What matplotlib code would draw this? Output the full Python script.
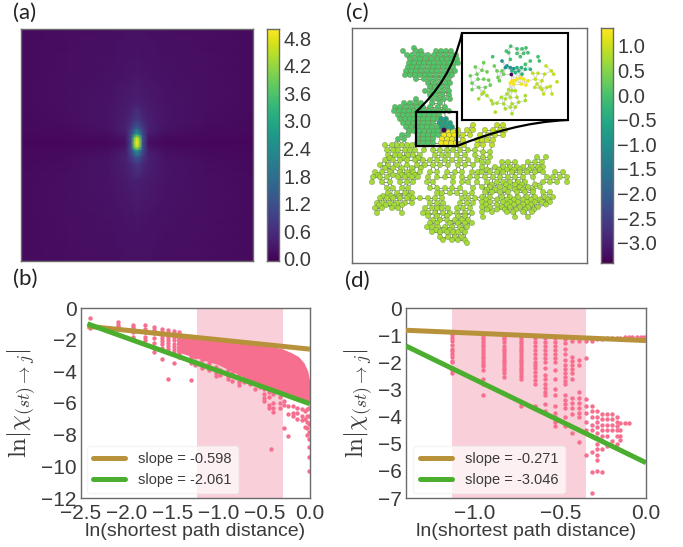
import numpy as np
import matplotlib
matplotlib.use("Agg")
import matplotlib.pyplot as plt
from matplotlib.patches import Rectangle, PathPatch
from matplotlib.path import Path
from matplotlib.lines import Line2D

plt.rcParams['font.family'] = ['Liberation Sans', 'DejaVu Sans']
plt.rcParams['mathtext.fontset'] = 'cm'

W, H = 683, 547
DARK = '#3a3a3a'
SPINE = '#6a6a6a'
PINK = '#f76f8e'
SHADE = '#f9cfd9'
GOLD = '#b8923a'
GREEN = '#4cae2e'

# ---------------- (a) heat map values ----------------
heat_x = [0, .2, .38, .45, .475, .49, .5, .51, .525, .55, .62, .8, 1]
heat_y = [0, .2, .33, .40, .43, .455, .47, .49, .51, .525, .55, .58, .65, .8, 1]
heat_v = [
    [.10, .12, .14, .15, .15, .15, .15, .15, .15, .15, .14, .12, .10],
    [.10, .13, .18, .21, .22, .23, .23, .23, .22, .21, .18, .13, .10],
    [.09, .13, .22, .30, .36, .40, .42, .40, .36, .30, .22, .13, .09],
    [.08, .12, .22, .38, .58, .78, .85, .78, .58, .38, .22, .12, .08],
    [.07, .10, .20, .40, .80, 1.25, 1.45, 1.25, .80, .40, .20, .10, .07],
    [.05, .07, .14, .32, 1.05, 2.3, 2.8, 2.3, 1.05, .32, .14, .07, .05],
    [.05, .06, .10, .22, 1.2, 3.9, 4.6, 3.9, 1.2, .22, .10, .06, .05],
    [.04, .04, .05, .14, 1.1, 4.3, 5.0, 4.3, 1.1, .14, .05, .04, .04],
    [.05, .06, .10, .22, 1.2, 3.9, 4.6, 3.9, 1.2, .22, .10, .06, .05],
    [.05, .08, .14, .32, 1.05, 2.2, 2.7, 2.2, 1.05, .32, .14, .08, .05],
    [.07, .10, .20, .40, .78, 1.2, 1.35, 1.2, .78, .40, .20, .10, .07],
    [.08, .12, .22, .38, .55, .72, .78, .72, .55, .38, .22, .12, .08],
    [.09, .13, .22, .30, .36, .40, .42, .40, .36, .30, .22, .13, .09],
    [.10, .13, .18, .21, .22, .23, .23, .23, .22, .21, .18, .13, .10],
    [.10, .12, .14, .15, .15, .15, .15, .15, .15, .15, .14, .12, .10],
]
heat_ticks = [0.0, 0.6, 1.2, 1.8, 2.4, 3.0, 3.6, 4.2, 4.8]

# ---------------- (b) scatter values ----------------
b_columns = {
    -2.40: [-0.6, -1.05, -1.25],
    -2.10: [-0.9, -1.05, -1.2],
    -1.93: [-1.05, -1.2, -1.35, -1.5, -1.8],
    -1.80: [-1.1, -1.3, -1.5, -1.8, -2.0, -2.3],
    -1.70: [-1.2, -1.4, -1.6, -1.9, -2.2, -2.5, -2.75],
    -1.62: [-1.3, -1.5, -1.7, -1.9, -2.1, -2.3, -2.5, -3.2],
    -1.55: [-1.4, -1.6, -1.8, -2.0, -2.2, -2.4, -2.6, -4.5],
    -1.49: [-1.45, -1.65, -1.85, -2.05, -2.25, -2.45, -2.65, -2.85, -3.45],
    -1.43: [-1.5, -1.7, -1.9, -2.1, -2.3, -2.5, -2.7, -2.9, -3.1],
    -1.30: [-3.2, -3.5, -3.0, -4.55],
    -1.25: [-3.4, -3.6, -3.1],
    -1.18: [-3.3, -3.6, -3.8],
    -1.10: [-3.5, -3.85, -3.9],
    -1.03: [-3.7, -4.1, -4.3],
    -0.98: [-3.9, -4.2],
    -0.90: [-3.9, -4.3, -4.5],
    -0.85: [-4.1, -4.6],
    -0.78: [-4.2, -4.7, -4.85],
    -0.72: [-4.4, -4.7],
    -0.65: [-4.5, -4.8, -4.7],
    -0.60: [-4.7, -5.1],
    -0.55: [-4.9, -5.0],
    -0.50: [-5.1, -5.4, -5.7, -5.9],
    -0.45: [-5.3, -5.6, -6.1, -6.3],
    -0.40: [-5.4, -6.0, -6.3, -6.55],
    -0.43: [-8.9],
    -0.33: [-5.6, -6.0, -6.3],
    -0.28: [-5.9, -6.1, -7.6],
    -0.24: [-6.2, -6.7, -8.1],
    -0.19: [-6.2, -6.6, -6.8],
    -0.14: [-6.3, -6.6, -7.0],
    -0.09: [-6.4, -6.8, -7.1],
    -0.06: [-6.5, -7.0, -7.5],
    -0.03: [-6.4, -6.8, -7.2, -7.6, -8.0],
    -0.01: [-6.3, -6.8, -7.3, -7.8, -8.3, -8.8, -9.4, -10.3],
}
b_body_x = [-1.45, -1.2, -0.8, -0.3, -0.2, -0.12, -0.06, -0.02, 0.0, 0.0, -0.5, -1.0, -1.45]
b_body_up = [-1.6, -1.8, -2.1, -2.6, -2.85, -3.1, -3.5, -4.0, -4.6, -6.0, -5.0, -3.6, -2.8]
b_gold_x, b_gold_y = [-2.43, 0.0], [-1.15, -2.6]
b_green_x, b_green_y = [-2.43, 0.0], [-1.0, -6.05]
b_band = (-1.23, -0.30)
b_xticks = [-2.5, -2.0, -1.5, -1.0, -0.5, 0.0]
b_yticks = [-12, -10, -8, -6, -4, -2, 0]
b_labels = ['slope = -0.598', 'slope = -2.061']

# ---------------- (d) scatter values ----------------
d_columns = {
    -1.13: [-1.0, -1.1, -1.2, -1.35, -1.5, -1.6, -1.7, -1.8, -1.95, -2.0, -2.2, -2.3, -2.4],
    -0.95: [-1.05, -1.15, -1.25, -1.35, -1.45, -1.55, -1.65, -1.75, -1.85, -1.95, -2.05, -2.15, -2.3, -2.6, -2.8, -3.2],
    -0.83: [-1.05, -1.15, -1.25, -1.4, -1.5, -1.6, -1.7, -1.8, -1.9, -2.0, -2.1, -2.2, -2.3, -2.4, -2.55],
    -0.73: [-1.1, -1.2, -1.3, -1.4, -1.5, -1.6, -1.7, -1.8, -1.9, -2.0, -2.1, -2.2, -2.3, -2.4, -2.5, -2.6, -3.5, -3.6],
    -0.65: [-1.1, -1.25, -1.4, -1.55, -1.7, -1.85, -2.0, -2.1, -2.2, -2.35, -2.5, -2.65, -2.8, -3.6, -3.7],
    -0.59: [-1.1, -1.25, -1.4, -1.55, -1.7, -1.85, -2.0, -2.2, -2.45, -2.6, -2.8, -2.95, -3.1, -3.2, -3.55, -3.8],
    -0.53: [-1.1, -1.25, -1.4, -1.55, -1.7, -1.85, -2.0, -2.3, -2.6, -3.0, -3.2, -3.6, -3.85, -4.0, -4.2, -4.35],
    -0.475: [-1.15, -1.3, -1.5, -1.7, -1.9, -2.1, -2.25, -2.4, -2.55, -2.7, -2.8, -3.2, -3.4, -3.55, -3.7, -4.0, -4.35],
    -0.43: [-1.2, -1.8, -1.95, -2.1, -2.25, -2.4, -2.6, -3.3, -3.5, -3.7, -3.9, -4.6],
    -0.39: [-1.2, -1.9, -2.1, -3.1, -3.3, -3.5, -3.7, -3.85, -4.0, -4.95],
    -0.35: [-1.2, -1.85, -3.35, -3.6, -3.85, -4.2, -4.5, -5.4],
    -0.315: [-1.2, -3.6, -3.8, -4.0, -4.3, -4.5, -4.7, -5.3, -6.05, -6.8],
    -0.285: [-1.15, -3.8, -4.0, -4.2, -4.4, -4.6, -4.8, -5.0, -5.2, -5.4, -5.6, -6.0],
    -0.255: [-1.15, -3.9, -4.1, -4.3, -4.5, -4.7, -4.9, -5.2, -6.05],
    -0.225: [-1.12, -3.9, -4.1, -4.3, -4.5, -4.7, -5.1],
    -0.20: [-1.1, -3.9, -4.1, -4.3, -4.5, -4.9, -5.1],
    -0.17: [-1.1, -4.0, -4.2, -4.35, -4.5, -4.7, -5.0, -5.15],
    -0.15: [-1.1, -4.25, -4.5, -4.7, -4.85],
    -0.125: [-1.08, -4.25],
    -0.10: [-1.08, -4.25],
    -0.08: [-1.08],
    -0.05: [-1.08],
    -0.03: [-1.08],
    -0.01: [-1.08],
}
d_gold_x, d_gold_y = [-1.4, 0.0], [-0.82, -1.2]
d_green_x, d_green_y = [-1.4, 0.0], [-1.4, -5.7]
d_band = (-1.13, -0.35)
d_xticks = [-1.0, -0.5, 0.0]
d_yticks = [-7, -6, -5, -4, -3, -2, -1, 0]
d_labels = ['slope = -0.271', 'slope = -3.046']

# ---------------- (c) network layout: row y -> node x, and node values ----------------
top_rows = {
    48: [414],
    51: [403, 416, 421, 436, 441, 446, 451],
    55: [407, 412, 418, 422, 428, 434, 440, 446, 452, 456],
    59: [410, 416, 420, 425, 431, 437, 442, 447, 452, 457],
    63: [409, 414, 419, 424, 429, 434, 439, 444, 449, 454, 458],
    67: [408, 412, 417, 422, 428, 433, 438, 443, 448, 453],
    71: [406, 411, 416, 421, 427, 432, 437, 443, 449, 455],
    75: [405, 410, 415, 420, 425, 430, 436, 442, 448, 452],
    79: [416, 424, 430, 436, 442, 448],
    83: [428, 434, 440, 446, 450],
    87: [430, 435, 441, 447],
    91: [425, 431, 437, 443, 449],
    95: [430, 436, 442, 449],
    99: [416, 432, 438, 444, 450],
    103: [404, 410, 416, 421, 432, 440],
    107: [395, 400, 405, 411, 417, 423, 430, 438, 445],
    111: [394, 399, 404, 409, 414, 419, 424, 429, 434, 439, 444, 449],
    115: [398, 403, 408, 413, 419, 424, 429, 434, 439],
    119: [400, 405, 410, 414, 418, 423, 428, 433, 438],
    123: [403, 408, 413, 418, 423, 428, 433],
    127: [406, 411, 417, 422, 427, 432, 437],
    131: [409, 414, 419, 424, 429, 434, 438],
    135: [402, 408, 418, 423, 428, 433, 438],
    139: [398, 404, 418, 423, 428, 433],
    143: [418, 423, 428, 433],
}
teal_rows = {
    119: [441, 446],
    123: [440, 445, 450],
    127: [442, 447, 452],
    131: [444, 451],
}
hot_rows = {
    132: [448, 453],
    135: [444, 449, 454],
    139: [442, 447, 452],
    143: [441, 446, 451, 456],
}
strip_rows = {
    125: [473, 497, 503],
    130: [458, 467, 473, 485, 493, 500, 505],
    135: [457, 463, 470, 480, 488, 495, 503],
    140: [463, 477, 482, 487, 493],
    145: [458, 464, 477, 483, 492],
}
west_rows = {
    145: [385, 392, 397, 402, 407, 412],
    150: [387, 393, 398, 405, 410, 415, 424, 433, 440, 447, 453, 460, 468, 475],
    155: [388, 395, 400, 408, 413, 420, 435, 442, 448, 457, 465, 475],
    158: [390, 404, 418],
    160: [385, 393, 400, 407, 415, 423, 430, 437, 445, 452, 460, 468, 477],
    165: [380, 388, 397, 407, 417, 425, 433, 440, 448, 458, 465, 473],
    168: [385, 393, 402, 412, 421],
    172: [375, 382, 390, 400, 407, 413, 420, 430, 437, 447, 455, 462, 472, 478],
    175: [378, 393, 402, 409, 415],
    177: [373, 380, 387, 398, 405, 412, 418, 428, 437, 445, 453, 462, 470, 477],
    182: [372, 382, 390, 400, 407, 413, 427, 433, 453, 462, 468, 477],
    188: [387, 393, 402, 408, 430, 437, 445, 452, 460, 473],
    193: [388, 397, 405, 412, 437, 442, 450, 457, 465, 472],
    196: [383, 391, 399, 409],
    198: [380, 387, 393, 400, 407, 413, 420, 428, 435, 442, 462, 468, 475],
    203: [377, 383, 390, 397, 405, 412, 430, 437, 443, 460, 467, 473],
    205: [379, 386, 394, 402],
    208: [375, 382, 392, 398, 425, 432, 437, 442, 448, 457, 463, 470],
    213: [377, 402, 423, 428, 435, 443, 450, 457, 465, 472],
    216: [428, 437, 447, 458, 465],
    220: [433, 440, 447, 455, 462, 468],
    223: [430, 437, 450, 458, 465, 472],
    227: [427, 432, 438, 445, 452, 460, 467],
    230: [436, 444, 450, 462],
    232: [432, 440, 447, 453, 458, 465],
    237: [440, 448, 455, 462],
    240: [443, 452, 458, 465],
    243: [467],
}
east_rows = {
    152: [483, 490],
    157: [483, 490, 537, 546],
    162: [482, 488, 502, 508, 515, 528, 535, 542],
    167: [482, 495, 503, 510, 517, 523, 532, 538, 543],
    169.5: [487, 499, 507, 514, 520, 529, 540],
    172: [482, 490, 497, 503, 512, 520, 527, 535, 543, 555, 563],
    177: [485, 493, 500, 508, 515, 523, 533, 547, 553, 560, 567],
    182: [487, 497, 503, 510, 518, 525, 543, 550, 557, 567],
    184.5: [492, 506, 515, 522, 535],
    187: [482, 490, 500, 510, 520, 528, 540],
    189.5: [487, 495, 505, 515, 523, 533],
    192: [485, 492, 500, 508, 517, 525, 533, 543, 550],
    197: [482, 490, 502, 510, 518, 527, 535, 545, 553],
    199.5: [486, 497, 507, 514, 523, 531, 540, 548],
    202: [482, 490, 503, 510, 518, 527, 535, 542, 550],
    204.5: [486, 497, 507, 514, 523, 531, 546],
    207: [482, 490, 502, 510, 520, 528, 538],
    209.5: [487, 497, 505, 516, 525, 534],
    212: [482, 492, 507, 513, 523, 532],
    217: [483, 515, 528],
}
top_value, teal_value, hot_value, strip_value, low_value = 0.05, -0.75, 1.25, 0.9, 0.72
source_node, source_value = (444, 130), -3.4

inset_nodes = {
    -0.05: [(146, 40), (133, 55), (140, 60), (165, 48), (180, 48), (192, 45), (165, 62), (185, 62), (198, 60),
            (175, 72), (205, 85), (190, 95), (228, 72), (232, 85), (92, 72), (145, 80)],
    -0.95: [(120, 85), (135, 100), (145, 105), (155, 108), (130, 105)],
    -0.35: [(165, 105), (178, 105), (160, 120), (170, 115), (190, 110), (205, 110), (150, 115), (180, 125)],
    -3.4: [(148, 126)],
    1.28: [(150, 145), (158, 145), (145, 152), (155, 155), (175, 135), (185, 140), (165, 140), (178, 155),
           (192, 158), (198, 145)],
    0.3: [(40, 103), (65, 90), (97, 100), (25, 130), (45, 125), (60, 113), (75, 118), (48, 140), (30, 152),
          (65, 140), (80, 143), (105, 115), (120, 115), (125, 125), (108, 135), (112, 145), (85, 158),
          (50, 165), (30, 172), (70, 165)],
    0.75: [(60, 185), (50, 200), (75, 190), (65, 180), (88, 205), (92, 215), (105, 213), (118, 195), (125, 215),
           (130, 200), (135, 185), (140, 172), (150, 175), (160, 175), (145, 195), (165, 195), (190, 190),
           (190, 205), (170, 210), (150, 215), (160, 225), (145, 225), (130, 230), (100, 240), (150, 245)],
    0.9: [(212, 122), (228, 122), (252, 100), (268, 115), (275, 125), (248, 125), (220, 140), (240, 145),
          (285, 148), (225, 155), (255, 165), (265, 162), (218, 165), (245, 185), (240, 172), (270, 185), (235, 165)],
}
net_ticks = [-3.0, -2.5, -2.0, -1.5, -1.0, -0.5, 0.0, 0.5, 1.0]
net_range = (-3.41, 1.36)
heat_range = (-0.05, 5.0)

xlabel = 'ln(shortest path distance)'
ylabel = r'$\ln|\chi_{(st)\to j}|$'


def box(l, t, r, b):
    return [l / W, 1 - b / H, (r - l) / W, (b - t) / H]


fig = plt.figure(figsize=(W / 100, H / 100), dpi=100)


def style(ax, size=15):
    for s in ax.spines.values():
        s.set_color(SPINE)
        s.set_linewidth(1.0)
    ax.tick_params(length=0, labelsize=size, colors=DARK, pad=3)


def colorbar(pos, vrange, ticks, fmt):
    cax = fig.add_axes(box(*pos))
    g = np.linspace(vrange[0], vrange[1], 256).reshape(-1, 1)
    cax.imshow(g, aspect='auto', origin='lower', cmap='viridis',
               extent=[0, 1, vrange[0], vrange[1]], vmin=vrange[0], vmax=vrange[1])
    cax.set_xticks([])
    cax.yaxis.tick_right()
    cax.set_yticks(ticks)
    cax.set_yticklabels([fmt(t).replace('-', '\u2212') for t in ticks])
    style(cax, 14.5)
    cax.tick_params(pad=3)
    return cax


# (a)
axa = fig.add_axes(box(21, 29, 253, 261))
X, Y = np.meshgrid(heat_x, heat_y)
axa.pcolormesh(X, Y, np.array(heat_v), shading='gouraud', cmap='viridis',
               vmin=heat_range[0], vmax=heat_range[1])
axa.set_xlim(0, 1)
axa.set_ylim(1, 0)
axa.set_xticks([])
axa.set_yticks([])
style(axa)
colorbar((267, 29, 279, 261), heat_range, heat_ticks, lambda t: f'{t:.1f}')


# (b) and (d)
def scatter_panel(pos, columns, band, gold, green, xlim, ylim, xticks, yticks, labels, legbox, ylabel_x, body=None):
    ax = fig.add_axes(box(*pos))
    ax.axvspan(band[0], band[1], color=SHADE, lw=0, zorder=0)
    if body is not None:
        ax.fill(body[0], body[1], color=PINK, lw=0, zorder=1)
    xs = [x for x, ys in columns.items() for _ in ys]
    ys = [y for col in columns.values() for y in col]
    ax.scatter(xs, ys, s=10, color=PINK, lw=0, zorder=2, clip_on=True)
    h1, = ax.plot(gold[0], gold[1], color=GOLD, lw=3.6, zorder=3, solid_capstyle='butt')
    h2, = ax.plot(green[0], green[1], color=GREEN, lw=3.6, zorder=3, solid_capstyle='butt')
    ax.set_xlim(*xlim)
    ax.set_ylim(*ylim)
    ax.set_xticks(xticks)
    ax.set_yticks(yticks)
    ax.set_xticklabels([f'{t:.1f}'.replace('-', '\u2212') for t in xticks])
    ax.set_yticklabels([str(t).replace('-', '\u2212') for t in yticks])
    style(ax)
    ax.tick_params(axis='x', pad=4)
    ax.set_xlabel(xlabel, fontsize=14, color=DARK, labelpad=0)
    ax.set_ylabel(ylabel, fontsize=18, color=DARK)
    ax.yaxis.set_label_coords(ylabel_x, 0.5)
    leg = ax.legend([h1, h2], labels, loc='lower left', bbox_to_anchor=legbox, fontsize=10.5,
                    frameon=True, framealpha=0.7, facecolor='white', edgecolor='#f0f0f0', borderaxespad=0.2,
                    labelcolor=DARK, handlelength=2.2, borderpad=0.45, labelspacing=0.42, handletextpad=0.9)
    for h in leg.legend_handles:
        h.set_solid_capstyle('round')
    return ax


scatter_panel((81, 308, 310, 498), b_columns, b_band, (b_gold_x, b_gold_y), (b_green_x, b_green_y),
              (-2.5, 0), (-12, 0), b_xticks, b_yticks, b_labels, (0.012, 0.01), -0.188, body=(b_body_x, b_body_up))
scatter_panel((406, 308, 646, 498), d_columns, d_band, (d_gold_x, d_gold_y), (d_green_x, d_green_y),
              (-1.4, 0), (-7, 0), d_xticks, d_yticks, d_labels, (0.018, 0.01), -0.13)

# (c)
axc = fig.add_axes(box(352, 28, 587, 263))
axc.set_xlim(352, 587)
axc.set_ylim(263, 28)
axc.set_xticks([])
axc.set_yticks([])
style(axc)


def collect(rows, value):
    return [(x, y, value) for y, row in rows.items() for x in row]


nodes = (collect(top_rows, top_value) + collect(west_rows, low_value) + collect(east_rows, low_value)
         + collect(strip_rows, strip_value) + collect(teal_rows, teal_value) + collect(hot_rows, hot_value)
         + [(source_node[0], source_node[1], source_value)])
nodes = np.array(nodes, dtype=float)


def edges(ax, pts, limit, color, lw):
    for i in range(len(pts)):
        d = np.hypot(*(pts[i + 1:, :2] - pts[i, :2]).T)
        for j in np.nonzero(d < limit)[0]:
            ax.add_line(Line2D([pts[i, 0], pts[i + 1 + j, 0]], [pts[i, 1], pts[i + 1 + j, 1]],
                               color=color, lw=lw, zorder=1))


edges(axc, nodes, 8.5, '#777777', 0.6)
axc.scatter(nodes[:, 0], nodes[:, 1], c=nodes[:, 2], s=14, cmap='viridis', vmin=net_range[0], vmax=net_range[1],
            edgecolors='#6f8a4a', linewidths=0.3, zorder=2)

# zoom rectangle and connectors
axc.add_patch(Rectangle((416, 112), 41, 34, fill=False, ec='black', lw=1.6, zorder=5))
curve1 = Path([(416, 112), (437, 92), (454, 68), (462, 33)], [Path.MOVETO, Path.CURVE4, Path.CURVE4, Path.CURVE4])
curve2 = Path([(457, 146), (490, 133), (525, 122), (568, 120)], [Path.MOVETO, Path.CURVE4, Path.CURVE4, Path.CURVE4])
for c in (curve1, curve2):
    axc.add_patch(PathPatch(c, fill=False, ec='black', lw=1.6, zorder=5))

axi = fig.add_axes(box(462, 33, 568, 120))
axi.set_xlim(0, 318)
axi.set_ylim(264, 0)
axi.set_xticks([])
axi.set_yticks([])
for s in axi.spines.values():
    s.set_linewidth(1.5)
    s.set_color('black')
ins = np.array([(x, y, v) for v, pts in inset_nodes.items() for x, y in pts], dtype=float)
edges(axi, ins, 24, '#cfcfcf', 0.6)
axi.scatter(ins[:, 0], ins[:, 1], c=ins[:, 2], s=7, cmap='viridis', vmin=net_range[0], vmax=net_range[1],
            linewidths=0, zorder=2)

colorbar((601, 28, 613, 263), net_range, net_ticks, lambda t: f'{t:.1f}')

# panel letters
for letter, px, py in [('(a)', 13, 13), ('(b)', 13, 279), ('(c)', 346, 13), ('(d)', 345, 281)]:
    fig.text(px / W, 1 - py / H, letter, fontsize=16, family='Lato', color='#222222', va='center', ha='left')

fig.savefig('out.png', dpi=100)
